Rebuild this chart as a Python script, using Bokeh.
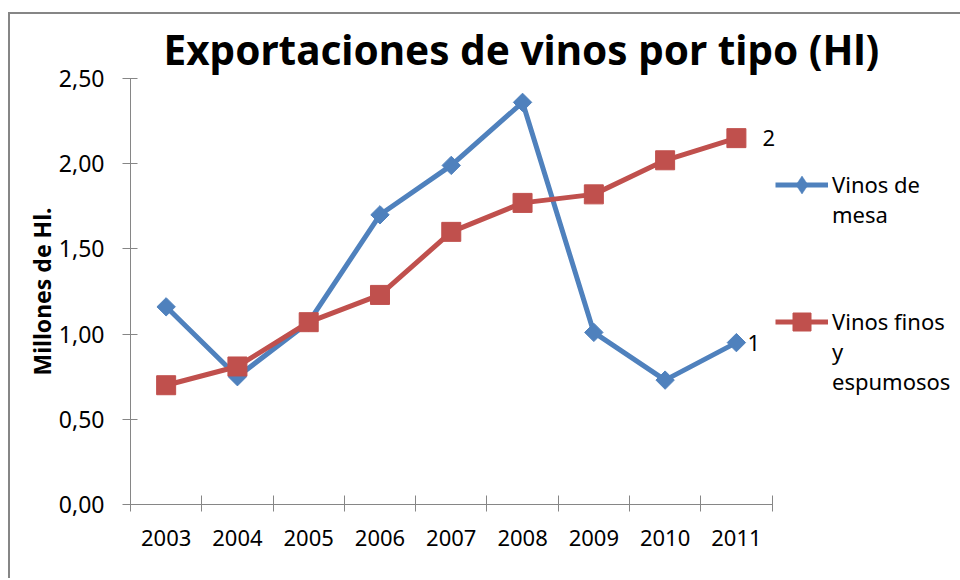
import numpy as np
from bokeh.plotting import figure
from bokeh.models import (Range1d, FixedTicker, CustomJSTickFormatter, Legend, LegendItem,
                          ColumnDataSource)
from bokeh.core.properties import value
from bokeh.embed import file_html
from bokeh.resources import INLINE

years = ["2003", "2004", "2005", "2006", "2007", "2008", "2009", "2010", "2011"]
vinos_mesa = [1.16, 0.75, 1.07, 1.70, 1.99, 2.36, 1.01, 0.73, 0.95]
vinos_finos = [0.70, 0.81, 1.07, 1.23, 1.60, 1.77, 1.82, 2.02, 2.15]
y_ticks = [0.0, 0.5, 1.0, 1.5, 2.0, 2.5]
series_names = ["\nVinos de\nmesa", "\n\nVinos finos\ny\nespumosos"]
end_labels = ["1", "2"]

FONT = "Noto Sans"
BLUE = "#4F81BD"
RED = "#C0504D"
GRAY = "#868686"
TXT = "#000000"

# layout constants (pixels)
W, H = 952, 566
ML, MT, MB = 120, 64, 76
AXIS_W = 640  # width of the category axis
frame_w = W - 2 - ML
n = len(years)
x_end = n * frame_w / AXIS_W

xs = [i + 0.5 for i in range(n)]

p = figure(width=W, height=H, output_backend="svg", toolbar_location=None,
           x_range=Range1d(0, x_end), y_range=Range1d(0, 2.5),
           min_border_left=ML, min_border_right=0, min_border_top=MT, min_border_bottom=MB)
p.margin = (12, 0, 0, 8)
p.outline_line_color = None
p.xgrid.visible = False
p.ygrid.visible = False
p.styles = {"border-left": "2px solid #868686", "border-top": "2px solid #868686",
            "box-sizing": "border-box"}

# title
p.title.text = "Exportaciones de vinos por tipo (Hl)"
p.title.text_font = FONT
p.title.text_font_size = "40.5px"
p.title.text_font_style = "bold"
p.title.text_color = TXT
p.title.align = "left"
p.title.offset = 33
p.title.standoff = 4

# y axis
p.yaxis.ticker = FixedTicker(ticks=y_ticks)
p.yaxis.formatter = CustomJSTickFormatter(code="return tick.toFixed(2).replace('.', ',');")
p.yaxis.axis_label = "Millones de Hl."
p.yaxis.axis_label_text_font = FONT
p.yaxis.axis_label_text_font_size = "23px"
p.yaxis.axis_label_text_font_style = "bold"
p.yaxis.axis_label_text_color = TXT
p.yaxis.axis_label_standoff = -2
p.yaxis.major_label_text_font = FONT
p.yaxis.major_label_text_font_size = "23px"
p.yaxis.major_label_text_color = TXT
p.yaxis.major_label_standoff = 18
p.yaxis.axis_line_color = GRAY
p.yaxis.major_tick_line_color = GRAY
p.yaxis.major_tick_out = 8
p.yaxis.major_tick_in = 7
p.yaxis.minor_tick_line_color = None

# x axis
p.xaxis.bounds = (0, n)
p.xaxis.ticker = FixedTicker(ticks=xs, minor_ticks=list(range(n + 1)))
p.xaxis.major_label_overrides = {x: y for x, y in zip(xs, years)}
p.xaxis.major_label_text_font = FONT
p.xaxis.major_label_text_font_size = "22px"
p.xaxis.major_label_text_color = TXT
p.xaxis.major_label_standoff = 18
p.xaxis.axis_line_color = GRAY
p.xaxis.major_tick_line_color = None
p.xaxis.major_tick_out = 0
p.xaxis.major_tick_in = 0
p.xaxis.minor_tick_line_color = GRAY
p.xaxis.minor_tick_out = 7
p.xaxis.minor_tick_in = 9

src = ColumnDataSource(dict(x=xs, mesa=vinos_mesa, finos=vinos_finos))

l1 = p.line("x", "mesa", source=src, line_color=BLUE, line_width=5)
m1 = p.scatter("x", "mesa", source=src, marker="square", angle=np.pi / 4, size=13,
               fill_color=BLUE, line_color=BLUE)
l2 = p.line("x", "finos", source=src, line_color=RED, line_width=5)
m2 = p.scatter("x", "finos", source=src, marker="square", size=19,
               fill_color=RED, line_color=RED)
# legend glyph: a diamond (legend glyphs are never rotated); invisible in the plot
leg_d = p.scatter("x", "mesa", source=src, marker="diamond", size=0,
                  fill_color=BLUE, line_color=BLUE, line_width=0.5)

# end labels
p.text(x=[xs[-1]], y=[vinos_mesa[-1]], text=[end_labels[0]], x_offset=11,
       text_font=value(FONT), text_font_size="22px", text_baseline="middle",
       text_align="left", text_color=TXT)
p.text(x=[xs[-1]], y=[vinos_finos[-1]], text=[end_labels[1]], x_offset=26,
       text_font=value(FONT), text_font_size="22px", text_baseline="middle",
       text_align="left", text_color=TXT)

legend = Legend(items=[LegendItem(label=series_names[0], renderers=[l1, leg_d]),
                       LegendItem(label=series_names[1], renderers=[l2, m2])],
                location=(645, 108), border_line_color=None, background_fill_alpha=0,
                label_text_font=FONT, label_text_font_size="22px", label_text_color=TXT,
                glyph_width=53, glyph_height=45, label_standoff=4, spacing=17,
                padding=0, margin=0, label_text_line_height=1.5)
p.add_layout(legend, "center")

open("out.html", "w").write(file_html(p, INLINE))
